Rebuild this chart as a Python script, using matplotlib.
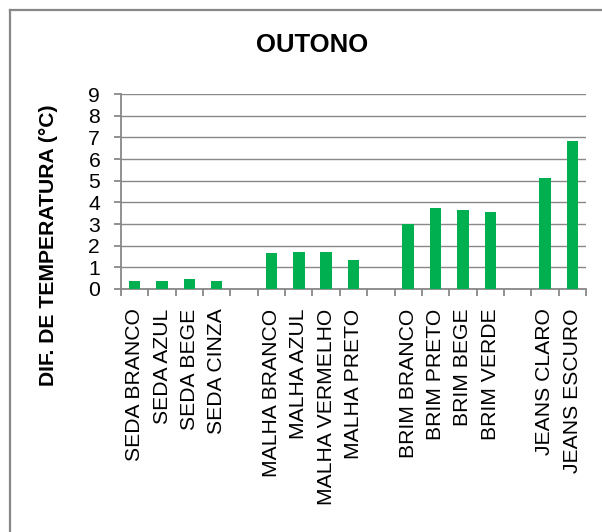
import matplotlib
matplotlib.use("Agg")
import matplotlib.pyplot as plt
from matplotlib.lines import Line2D
import numpy as np

plt.rcParams['font.family'] = ['Liberation Sans', 'DejaVu Sans']

# Fabric groups and their temperature differences (°C)
groups = [
    ["SEDA BRANCO", "SEDA AZUL", "SEDA BEGE", "SEDA CINZA"],
    ["MALHA BRANCO", "MALHA AZUL", "MALHA VERMELHO", "MALHA PRETO"],
    ["BRIM BRANCO", "BRIM PRETO", "BRIM BEGE", "BRIM VERDE"],
    ["JEANS CLARO", "JEANS ESCURO"],
]
values = [
    [0.35, 0.38, 0.48, 0.38],
    [1.65, 1.69, 1.69, 1.35],
    [3.02, 3.75, 3.66, 3.57],
    [5.14, 6.85],
]
title = "OUTONO"
ylabel = "DIF. DE TEMPERATURA (°C)"
yticks = list(range(0, 10))

# Lay the groups out on one category axis with an empty slot between them
labels, heights = [], []
for i, (g, v) in enumerate(zip(groups, values)):
    if i > 0:
        labels.append("")
        heights.append(np.nan)
    labels.extend(g)
    heights.extend(v)
x = np.arange(len(labels))

W, H = 602, 532
fig = plt.figure(figsize=(W / 100, H / 100), dpi=100)
ax = fig.add_axes([121 / W, 1 - 289 / H, (586 - 121) / W, (289 - 94) / H])

grey = "#888888"
ax.bar(x, heights, width=0.42, color="#00B050", zorder=3)

ax.set_xlim(-0.5, len(labels) - 0.5)
ax.set_ylim(0, 9)
ax.set_yticks(yticks)
ax.set_yticklabels([str(t) for t in yticks])
ax.yaxis.grid(True, color=grey, linewidth=1.0, zorder=0)
ax.set_axisbelow(True)

ax.set_xticks(x)
ax.set_xticklabels(labels, rotation=90, va="top", ha="center")
ax.set_xticks(np.arange(-0.5, len(labels)), minor=True)
ax.tick_params(axis="x", which="major", length=0, pad=14, labelsize=15.2)
ax.tick_params(axis="x", which="minor", length=5, width=1.3, color=grey, direction="out")
ax.tick_params(axis="y", length=5, width=1.3, color=grey, direction="out", pad=10, labelsize=15.2)

for s in ("top", "right"):
    ax.spines[s].set_visible(False)
for s in ("left", "bottom"):
    ax.spines[s].set_color(grey)
    ax.spines[s].set_linewidth(1.3)

fig.text(311.7 / W, 1 - 45 / H, title, ha="center", va="center",
         fontsize=18.5, fontweight="bold")
fig.text(49 / W, 1 - 245.5 / H, ylabel, ha="center", va="center",
         rotation=90, fontsize=15.2, fontweight="bold")

# Chart-area frame (left and top edges)
fig.add_artist(Line2D([10 / W, 10 / W], [0, 1 - 10 / H], transform=fig.transFigure,
                      color=grey, linewidth=1.6))
fig.add_artist(Line2D([10 / W, 1], [1 - 10 / H, 1 - 10 / H], transform=fig.transFigure,
                      color=grey, linewidth=1.6))

fig.savefig("out.png", dpi=100)
